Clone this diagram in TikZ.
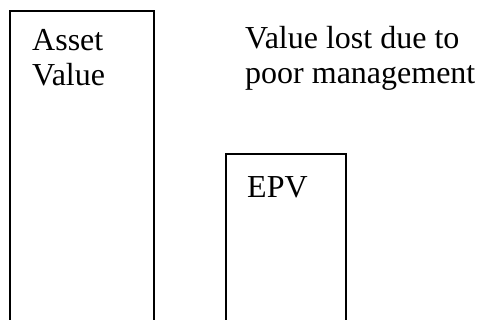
\documentclass[tikz,border=0pt]{standalone}
\usepackage{fontspec}
\setmainfont{Liberation Serif}
\begin{document}
\begin{tikzpicture}[x=1pt,y=-1pt,
  bar/.style={draw=black,line width=1.4pt},
  lbl/.style={anchor=base west,inner sep=0pt,font=\fontsize{32}{35}\selectfont}]
\useasboundingbox (0,0) rectangle (478,320);
\coordinate (a1) at (10,322);
\coordinate (a2) at (10,11);
\coordinate (a3) at (154,11);
\coordinate (a4) at (154,322);
\coordinate (b1) at (226,322);
\coordinate (b2) at (226,154);
\coordinate (b3) at (346,154);
\coordinate (b4) at (346,322);
\draw[bar] (a1) -- (a2) -- (a3) -- (a4);
\draw[bar] (b1) -- (b2) -- (b3) -- (b4);
\node[lbl] (asset) at (32,51) {Asset};
\node[lbl] (value) at (32,86) {Value};
\node[lbl] (lost1) at (245,49) {Value lost due to};
\node[lbl] (lost2) at (245,84) {poor management};
\node[lbl] (epv) at (247,197) {EPV};
\end{tikzpicture}
\end{document}
